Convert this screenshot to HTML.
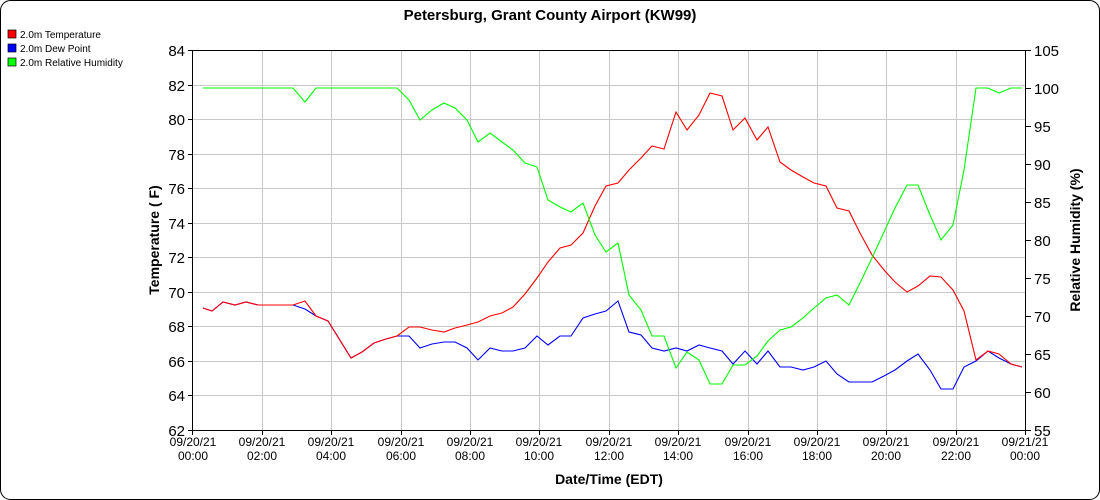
<!DOCTYPE html>
<html><head><style>body{margin:0;background:#fff}svg{display:block;font-family:"Liberation Sans",sans-serif}</style></head><body>
<svg width="1100" height="500" viewBox="0 0 1100 500">
<rect x="0.5" y="0.5" width="1099" height="499" rx="10" fill="#fff" stroke="#000"/>
<text x="550" y="20" text-anchor="middle" font-size="15" font-weight="bold">Petersburg, Grant County Airport (KW99)</text>
<g font-size="10"><rect x="8" y="30" width="8" height="8" fill="#f00" stroke="#000" stroke-width=".7"/><text x="20" y="38">2.0m Temperature</text>
<rect x="8" y="44" width="8" height="8" fill="#00f" stroke="#000" stroke-width=".7"/><text x="20" y="52">2.0m Dew Point</text>
<rect x="8" y="58" width="8" height="8" fill="#0f0" stroke="#000" stroke-width=".7"/><text x="20" y="66">2.0m Relative Humidity</text></g>
<g stroke="#c8c8c8" stroke-width="1">
<path d="M193 85.5H1026M193 119.5H1026M193 154.5H1026M193 188.5H1026M193 223.5H1026M193 257.5H1026M193 292.5H1026M193 326.5H1026M193 361.5H1026M193 395.5H1026"/>
<path d="M262.5 51V430M331.5 51V430M401.5 51V430M470.5 51V430M539.5 51V430M609.5 51V430M678.5 51V430M748.5 51V430M817.5 51V430M886.5 51V430M956.5 51V430"/>
</g>
<g stroke="#000" fill="none">
<rect x="192.5" y="50.5" width="833" height="380"/>
<path d="M188 50.5h5M188 85.5h5M188 119.5h5M188 154.5h5M188 188.5h5M188 223.5h5M188 257.5h5M188 292.5h5M188 326.5h5M188 361.5h5M188 395.5h5M188 430.5h5"/>
<path d="M1026 50.5h5M1026 88.5h5M1026 126.5h5M1026 164.5h5M1026 202.5h5M1026 240.5h5M1026 278.5h5M1026 316.5h5M1026 354.5h5M1026 392.5h5M1026 430.5h5"/>
<path d="M192.5 430v5M262.5 430v5M331.5 430v5M401.5 430v5M470.5 430v5M539.5 430v5M609.5 430v5M678.5 430v5M748.5 430v5M817.5 430v5M886.5 430v5M956.5 430v5M1025.5 430v5"/>
</g>
<g font-size="15" text-anchor="end"><text x="185" y="56">84</text><text x="185" y="91">82</text><text x="185" y="125">80</text><text x="185" y="160">78</text><text x="185" y="194">76</text><text x="185" y="229">74</text><text x="185" y="263">72</text><text x="185" y="298">70</text><text x="185" y="332">68</text><text x="185" y="367">66</text><text x="185" y="401">64</text><text x="185" y="436">62</text></g>
<g font-size="15"><text x="1034" y="56">105</text><text x="1034" y="94">100</text><text x="1034" y="132">95</text><text x="1034" y="170">90</text><text x="1034" y="208">85</text><text x="1034" y="246">80</text><text x="1034" y="284">75</text><text x="1034" y="322">70</text><text x="1034" y="360">65</text><text x="1034" y="398">60</text><text x="1034" y="436">55</text></g>
<g font-size="12" text-anchor="middle" fill="#000">
<text x="193" y="446">09/20/21</text><text x="193" y="460">00:00</text>
<text x="262" y="446">09/20/21</text><text x="262" y="460">02:00</text>
<text x="331" y="446">09/20/21</text><text x="331" y="460">04:00</text>
<text x="401" y="446">09/20/21</text><text x="401" y="460">06:00</text>
<text x="470" y="446">09/20/21</text><text x="470" y="460">08:00</text>
<text x="539" y="446">09/20/21</text><text x="539" y="460">10:00</text>
<text x="609" y="446">09/20/21</text><text x="609" y="460">12:00</text>
<text x="678" y="446">09/20/21</text><text x="678" y="460">14:00</text>
<text x="748" y="446">09/20/21</text><text x="748" y="460">16:00</text>
<text x="817" y="446">09/20/21</text><text x="817" y="460">18:00</text>
<text x="886" y="446">09/20/21</text><text x="886" y="460">20:00</text>
<text x="956" y="446">09/20/21</text><text x="956" y="460">22:00</text>
<text x="1025" y="446">09/21/21</text><text x="1025" y="460">00:00</text>
</g>
<text x="609" y="484" text-anchor="middle" font-size="14" font-weight="bold">Date/Time (EDT)</text>
<text transform="translate(159,240) rotate(-90)" text-anchor="middle" font-size="14" font-weight="bold">Temperature ( F)</text>
<text transform="translate(1080,240) rotate(-90)" text-anchor="middle" font-size="14" font-weight="bold">Relative Humidity (%)</text>
<g fill="none" stroke-width="1.1">
<polyline stroke="#00f" points="203,308 212,311 223,302 235,305 246,302 258,305 270,305 281,305 293,305 305,309 316,316 328,321 351,358 362,352 374,343 386,339 397,336 409,336 420,348 432,344 444,342 455,342 467,348 478,360 490,348 502,351 513,351 525,348 537,336 548,345 560,336 571,336 583,318 595,314 606,311 618,301 629,332 641,335 652,348 664,351 676,348 687,351 699,345 710,348 722,351 733,364 745,351 757,364 768,351 780,367 791,367 803,370 814,367 826,361 837,374 849,382 860,382 872,382 884,376 895,370 907,361 918,354 930,370 941,389 953,389 964,367 976,361 988,351 999,358 1011,364 1022,367"/>
<polyline stroke="#f00" points="203,308 212,311 223,302 235,305 246,302 258,305 270,305 281,305 293,305 305,301 316,316 328,321 351,358 362,352 374,343 386,339 397,336 409,327 420,327 432,330 444,332 455,328 467,325 478,322 490,316 502,313 513,307 525,294 537,278 548,262 560,248 571,245 583,233 595,206 606,186 618,183 629,170 641,158 652,146 664,149 676,112 687,130 699,115 710,93 722,96 733,130 745,118 757,140 768,127 780,162 791,170 803,177 814,183 826,186 837,208 849,211 860,233 872,255 884,270 895,282 907,292 918,286 930,276 941,277 953,290 964,311 976,360 988,351 999,354 1011,364 1022,367"/>
<polyline stroke="#0f0" points="203,88 293,88 305,102 316,88 397,88 409,100 420,120 432,110 444,103 455,108 467,120 478,142 490,133 502,142 513,150 525,163 537,167 548,200 560,207 571,212 583,203 595,235 606,252 618,243 629,295 641,310 652,336 664,336 676,368 687,352 699,360 710,384 722,384 733,365 745,365 757,356 768,341 780,330 791,327 803,318 814,308 826,298 837,295 849,305 860,283 872,258 884,232 895,208 907,185 918,185 930,215 941,240 953,225 964,170 976,88 988,88 999,93 1011,88 1022,88"/>
</g>
</svg>
</body></html>
